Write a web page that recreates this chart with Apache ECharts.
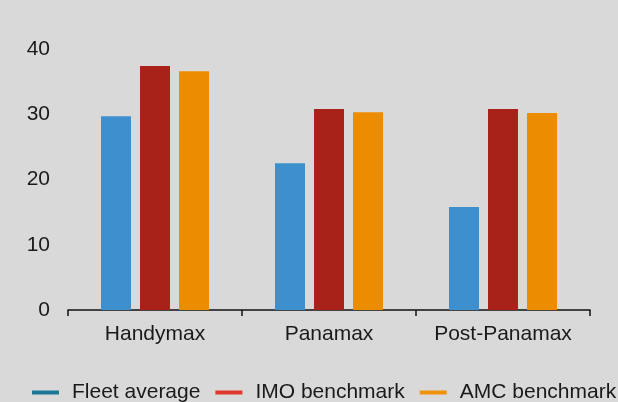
<!DOCTYPE html>
<html>
<head>
<meta charset="utf-8">
<script src="https://cdn.jsdelivr.net/npm/echarts@6/dist/echarts.min.js"></script>
<style>
  html, body { margin: 0; padding: 0; background: #d9d9d9; }
  #chart { width: 618px; height: 402px; }
</style>
</head>
<body>
<div id="chart"></div>
<script>
// Vessel classes along the x axis
const categories = ['Handymax', 'Panamax', 'Post-Panamax'];

// Values per class
const fleetAverage = [29.7, 22.5, 15.8];
const imoBenchmark = [37.4, 30.8, 30.8];
const amcBenchmark = [36.6, 30.3, 30.2];

// Value axis ticks
const yTicks = [0, 10, 20, 30, 40];

const FONT = "'Liberation Sans', Arial, Helvetica, sans-serif";
const TEXT = '#1a1a1a';

const chart = echarts.init(document.getElementById('chart'), null, { renderer: 'canvas' });

chart.setOption({
  backgroundColor: '#d9d9d9',
  animation: false,
  textStyle: { fontFamily: FONT, color: TEXT },
  grid: { left: 68, right: 28, top: 49, bottom: 92, containLabel: false },
  legend: {
    left: 32,
    top: 382,
    width: 700,
    padding: 0,
    itemWidth: 27,
    itemHeight: 4,
    itemGap: 15,
    icon: 'rect',
    textStyle: { fontFamily: FONT, fontSize: 21, color: TEXT, padding: [0, 0, 0, 8] },
    data: [
      { name: 'Fleet average', itemStyle: { color: '#1b7796' } },
      { name: 'IMO benchmark', itemStyle: { color: '#e0382a' } },
      { name: 'AMC benchmark', itemStyle: { color: '#f0920c' } }
    ]
  },
  xAxis: {
    type: 'category',
    data: categories,
    boundaryGap: true,
    axisLine: { show: true, lineStyle: { color: '#111', width: 1.5 } },
    axisTick: { show: true, interval: 0, length: 6, lineStyle: { color: '#111', width: 1.5 } },
    axisLabel: { interval: 0, fontFamily: FONT, fontSize: 21, color: TEXT, margin: 14 }
  },
  yAxis: {
    type: 'value',
    min: yTicks[0],
    max: yTicks[yTicks.length - 1],
    interval: yTicks[1] - yTicks[0],
    axisLine: { show: false },
    axisTick: { show: false },
    splitLine: { show: false },
    axisLabel: { fontFamily: FONT, fontSize: 21, color: TEXT, margin: 18 }
  },
  series: [
    {
      name: 'Fleet average', type: 'bar', data: fleetAverage,
      barWidth: 30, barGap: '30%',
      itemStyle: { color: '#3d90cd' }
    },
    {
      name: 'IMO benchmark', type: 'bar', data: imoBenchmark,
      barWidth: 30, barGap: '30%',
      itemStyle: { color: '#a82219' }
    },
    {
      name: 'AMC benchmark', type: 'bar', data: amcBenchmark,
      barWidth: 30, barGap: '30%',
      itemStyle: { color: '#ec8c00' }
    }
  ]
});
</script>
</body>
</html>
